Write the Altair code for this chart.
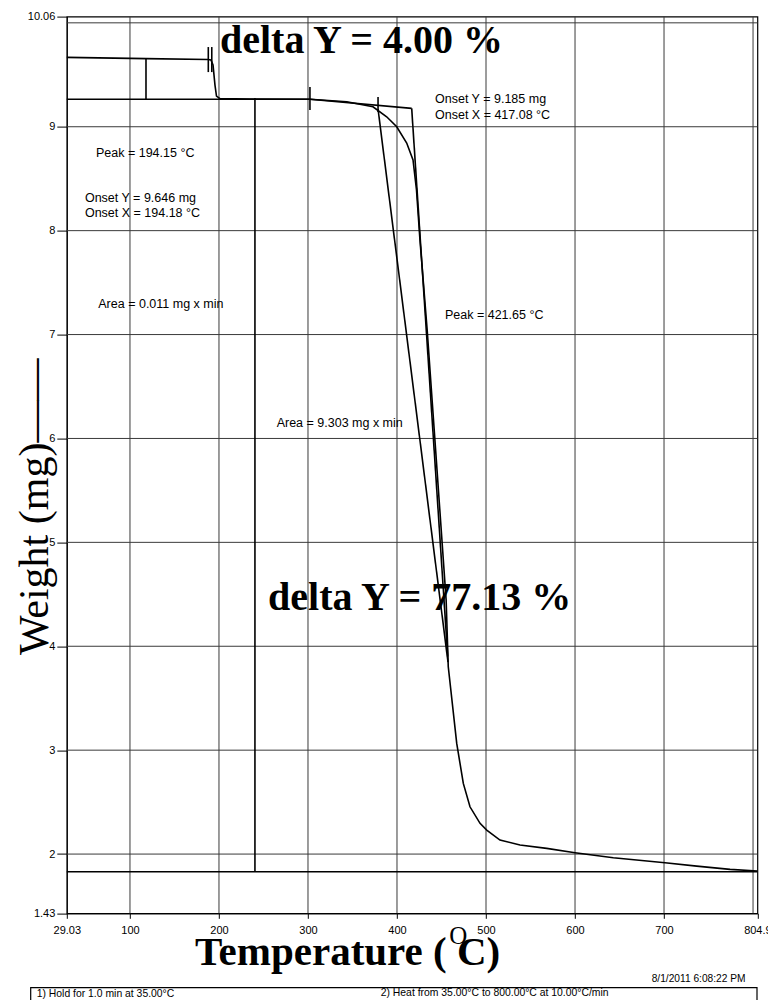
import altair as alt
import pandas as pd

# ---------------- data ----------------
temperature = [29.03, 118.0, 187.6, 191.0, 193.3, 195.5, 197.2, 201.1, 234.8, 302.2,
               343.5, 373.0, 388.4, 399.7, 410.9, 418.0, 421.9, 425.8, 433.9, 443.4,
               455.2, 457.6, 467.1, 474.5, 482.0, 493.3, 500.8, 515.7, 538.2, 568.2,
               600.0, 643.0, 701.1, 736.7, 774.2, 804.9]
weight = [9.668, 9.656, 9.647, 9.642, 9.594, 9.401, 9.295, 9.271, 9.267, 9.264,
          9.241, 9.192, 9.096, 9.000, 8.843, 8.680, 8.391, 7.910, 7.043, 5.888,
          4.445, 3.803, 3.065, 2.680, 2.455, 2.296, 2.231, 2.135, 2.087, 2.055,
          2.013, 1.964, 1.916, 1.884, 1.853, 1.837]

x_ticks = [29.03, 100, 200, 300, 400, 500, 600, 700, 804.9]
y_ticks = [1.43, 2, 3, 4, 5, 6, 7, 8, 9, 10.06]
x_grid = [100, 200, 300, 400, 500, 600, 700, 800]
y_grid = [2, 3, 4, 5, 6, 7, 8, 9, 10]

# analysis construction lines (start / end points)
seg_x1 = [302.2, 416.5, 378.7, 29.03, 29.03, 118.0, 240.4, 188.0, 191.9, 302.2, 378.7]
seg_y1 = [9.264, 9.177, 9.170, 9.264, 1.830, 9.661, 9.276, 9.767, 9.767, 9.382, 9.286]
seg_x2 = [416.5, 457.0, 457.3, 302.2, 804.9, 118.0, 240.4, 188.0, 191.9, 302.2, 378.7]
seg_y2 = [9.177, 3.900, 3.848, 9.264, 1.830, 9.257, 1.830, 9.526, 9.526, 9.161, 9.141]

ann_text = ["Peak = 194.15 °C", "Onset Y = 9.646 mg", "Onset X = 194.18 °C",
            "Area = 0.011 mg x min", "Onset Y = 9.185 mg", "Onset X = 417.08 °C",
            "Peak = 421.65 °C", "Area = 9.303 mg x min"]
ann_x = [61.8, 49.4, 49.4, 64.4, 442.7, 442.7, 453.9, 264.8]
ann_y = [8.705, 8.278, 8.128, 7.252, 9.231, 9.071, 7.146, 6.107]

big_text = ["delta Y = 4.00 %", "delta Y = 77.13 %"]
big_x = [201.1, 255.1]
big_y = [9.706, 4.348]

# ---------------- chart ----------------
W, H = 690.6, 896.7
PAD_L, PAD_T = 66.8, 16.6

xs = alt.Scale(domain=[29.03, 804.9], nice=False, zero=False)
ys = alt.Scale(domain=[1.43, 10.06], nice=False, zero=False)
x_axis = alt.Axis(values=x_ticks, format=".6~g", grid=False, tickSize=5, labelPadding=6,
                  labelFont="Liberation Sans", labelFontSize=11, labelColor="black",
                  domainColor="black", tickColor="black", labelFlush=False, labelOverlap=False)
y_axis = alt.Axis(values=y_ticks, format=".6~g", grid=False, tickSize=10, labelPadding=2,
                  labelFont="Liberation Sans", labelFontSize=11, labelColor="black",
                  domainColor="black", tickColor="black", labelFlush=False, labelOverlap=False)


def X(f):
    return alt.X(f, type="quantitative", scale=xs, axis=x_axis, title=None)


def Y(f):
    return alt.Y(f, type="quantitative", scale=ys, axis=y_axis, title=None)


vgrid = alt.Chart(pd.DataFrame({"g": x_grid})).mark_rule(color="#3a3a3a", strokeWidth=1).encode(x=X("g"))
hgrid = alt.Chart(pd.DataFrame({"g": y_grid})).mark_rule(color="#3a3a3a", strokeWidth=1).encode(y=Y("g"))

segs = alt.Chart(pd.DataFrame({"x1": seg_x1, "y1": seg_y1, "x2": seg_x2, "y2": seg_y2})).mark_rule(
    color="black", strokeWidth=1.6).encode(x=X("x1"), y=Y("y1"), x2="x2", y2="y2")

curve = alt.Chart(pd.DataFrame({"t": temperature, "w": weight})).mark_line(
    color="black", strokeWidth=1.6).encode(x=X("t"), y=Y("w"))

ann = alt.Chart(pd.DataFrame({"x": ann_x, "y": ann_y, "s": ann_text})).mark_text(
    align="left", baseline="alphabetic", font="Liberation Sans", fontSize=12.5, color="black").encode(
    x=X("x"), y=Y("y"), text="s:N")

big = alt.Chart(pd.DataFrame({"x": big_x, "y": big_y, "s": big_text})).mark_text(
    align="left", baseline="alphabetic", font="Liberation Serif", fontSize=40, fontWeight="bold",
    color="black").encode(x=X("x"), y=Y("y"), text="s:N")


def label(txt, px, py, **kw):
    return alt.Chart(pd.DataFrame({"s": [txt]})).mark_text(color="black", **kw).encode(
        x=alt.value(px - PAD_L), y=alt.value(py - PAD_T), text="s:N")


x_title = label("Temperature (  C)", 195, 965, align="left", baseline="alphabetic",
                font="Liberation Serif", fontSize=41, fontWeight="bold")
deg_o = label("O", 458.4, 944, align="center", baseline="alphabetic",
              font="Liberation Serif", fontSize=25)
y_title = label("Weight (mg)——", 48, 655, align="left", baseline="alphabetic", angle=270,
                font="Liberation Serif", fontSize=42)
date_t = label("8/1/2011 6:08:22 PM", 651.7, 982, align="left", baseline="alphabetic",
               font="Liberation Sans", fontSize=10.2)
step1 = label("1)  Hold for 1.0 min at 35.00°C", 36.7, 996.5, align="left", baseline="alphabetic",
              font="Liberation Sans", fontSize=10.4)
step2 = label("2)    Heat from 35.00°C to 800.00°C at 10.00°C/min", 380.7, 996, align="left",
              baseline="alphabetic", font="Liberation Sans", fontSize=10.4)

footer_box = alt.Chart(pd.DataFrame({"s": ["box"]})).mark_rect(
    filled=False, stroke="black", strokeWidth=1.2).encode(
    x=alt.value(30.7 - PAD_L), x2=alt.value(757 - PAD_L),
    y=alt.value(987.7 - PAD_T), y2=alt.value(1010 - PAD_T))

chart = alt.layer(
    vgrid, hgrid, segs, curve, ann, big,
    x_title, deg_o, y_title, date_t, footer_box, step1, step2
).properties(
    width=W, height=H,
    autosize=alt.AutoSizeParams(type="none"),
    padding={"left": PAD_L, "top": PAD_T, "right": 768 - PAD_L - W, "bottom": 1000 - PAD_T - H},
    background="white",
).configure_view(stroke="black", strokeWidth=1.2)

chart.save("out.html", embed_options={"renderer": "svg", "actions": False})
